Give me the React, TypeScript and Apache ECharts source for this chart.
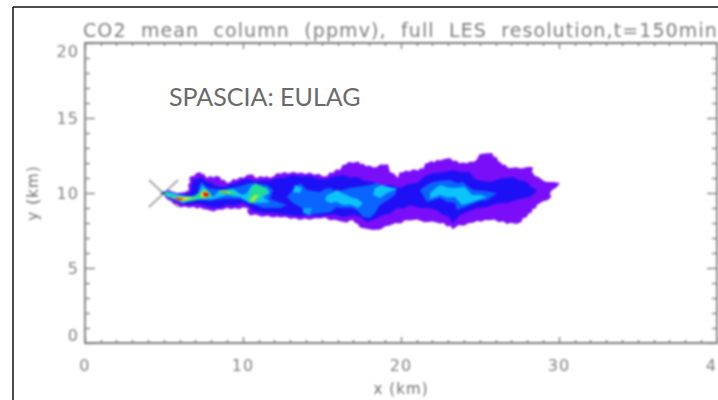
import React, { useEffect, useRef } from "react";
import * as echarts from "echarts";

const titleText = "CO2  mean  column  (ppmv),  full  LES  resolution,t=150min";
const noteText = "SPASCIA: EULAG";
type P = number[];

const plumeOutline: P[] = [[4.94,10],[5.25,10.2],[5.82,10],[6.3,10.05],[6.58,10.2],[6.52,10.55],[6.65,10.7],[6.6,11.0],[6.71,11.13],[6.9,11.12],[7.0,11.3],[7.28,11.4],[7.42,11.25],[7.5,11.3],[7.72,11],[7.95,11.15],[8.1,11.02],[8.3,11.15],[8.54,11.07],[8.65,10.85],[8.8,10.9],[8.99,10.67],[9.2,10.72],[9.37,10.93],[9.6,10.88],[9.8,11.05],[10.05,11.02],[10.25,11.2],[10.6,11.25],[10.75,11.05],[10.89,11],[11.1,11.14],[11.3,11.05],[11.5,11.12],[11.71,11.02],[11.95,11.12],[12.15,11.33],[12.4,11.28],[12.6,11.4],[12.9,11.3],[13.16,11.42],[13.45,11.32],[13.7,11.36],[13.95,11.26],[14.24,11.36],[14.5,11.22],[14.8,11.28],[15.05,11.1],[15.32,11.13],[15.5,11.38],[15.7,11.33],[15.9,11.58],[16.14,11.53],[16.3,11.86],[16.5,11.9],[16.7,12.08],[16.96,12.02],[17.3,12.1],[17.45,11.92],[17.59,11.96],[17.8,11.78],[18.0,11.84],[18.25,11.7],[18.48,11.73],[18.7,11.92],[18.9,11.88],[19.18,11.92],[19.3,11.4],[19.55,11.3],[19.81,11],[19.9,11.38],[20.1,11.36],[20.3,11.5],[20.55,11.44],[20.76,11.58],[21.1,11.5],[21.25,11.68],[21.39,11.6],[21.55,11.98],[21.71,12],[21.9,12.14],[22.1,12.05],[22.3,12.22],[22.47,12.16],[22.8,12.28],[23.1,12.33],[23.3,12.14],[23.5,12.16],[23.7,11.98],[23.92,12.04],[24.15,11.98],[24.4,12.1],[24.6,12.06],[24.81,12.24],[24.95,12.56],[25.13,12.62],[25.45,12.65],[25.76,12.67],[25.9,12.38],[26.05,12.42],[26.15,12.12],[26.27,12.07],[26.45,11.86],[26.6,11.9],[26.75,11.68],[26.9,11.67],[27.3,11.72],[27.6,11.64],[28.0,11.74],[28.35,11.73],[28.3,11.4],[28.48,11.13],[28.7,11.06],[28.9,10.92],[29.05,10.78],[29.24,10.73],[29.65,10.74],[30.06,10.67],[29.88,10.42],[29.75,10.3],[29.58,10.22],[29.43,10],[29.5,9.72],[29.3,9.53],[29.0,9.45],[28.6,9.2],[28.55,9.0],[28.3,8.9],[28.28,8.7],[28.06,8.62],[27.96,8.38],[27.7,8.32],[27.63,8.06],[27.3,7.94],[26.95,8.02],[26.71,7.93],[26.45,8.12],[26.2,8.05],[25.9,8.24],[25.63,8.18],[25.3,8.2],[25.1,8.08],[24.8,8.14],[24.56,8.02],[24.25,7.98],[24,7.82],[23.65,7.86],[23.29,7.58],[23.1,7.82],[22.9,7.76],[22.7,8.0],[22.47,7.96],[22,8.1],[21.5,8.05],[21,8.24],[20.57,8.16],[20.25,8.18],[20,7.96],[19.65,8.0],[19.3,7.84],[19.0,7.78],[18.7,7.56],[18.23,7.53],[17.8,7.62],[17.4,7.7],[17.25,7.96],[17.1,7.98],[16.95,8.2],[16.77,8.16],[16.55,8.02],[16.4,8.06],[16.14,8.12],[15.8,8.22],[15.5,8.18],[15.2,8.36],[14.9,8.3],[14.55,8.32],[14.24,8.22],[13.9,8.3],[13.6,8.2],[13.3,8.34],[12.97,8.28],[12.7,8.42],[12.4,8.36],[12.15,8.44],[11.9,8.36],[11.55,8.48],[11.2,8.42],[10.8,8.56],[10.44,8.5],[10.25,8.78],[10.35,8.96],[10,9.05],[9.75,8.92],[9.5,9.0],[9.25,8.92],[8.99,9.02],[8.7,8.88],[8.4,8.9],[8.15,8.76],[7.91,8.84],[7.7,8.9],[7.5,8.92],[7.3,9.04],[7.09,8.96],[6.85,9.08],[6.6,9.02],[6.3,9.1],[6.01,9.04],[5.85,9.24],[5.57,9.3],[5.45,9.52],[5.3,9.5],[5.06,9.73]];

const blueBody: P[] = [[4.94,10.07],[5.82,9.87],[6.65,10],[6.84,10.87],[7.1,10.92],[7.41,11.07],[7.6,10.8],[7.91,10.73],[8.35,10.45],[8.86,10.4],[9.2,10.6],[9.62,10.67],[9.9,10.85],[10.25,10.93],[10.75,10.78],[11.27,10.84],[11.7,10.82],[12.15,11],[12.6,11.02],[13.16,11.2],[13.7,11.08],[14.24,11.13],[14.8,10.94],[15.32,10.93],[15.8,11.14],[16.33,11.2],[16.8,11.04],[17.22,11.07],[17.7,10.82],[18.23,10.73],[18.75,10.48],[19.3,10.53],[19.94,10.33],[20.45,10.6],[21.01,10.67],[21.5,11.12],[22.03,11.33],[22.6,11.36],[23.29,11.53],[23.8,11.38],[24.37,11.4],[24.55,11.05],[24.81,10.87],[25.2,10.82],[25.63,10.73],[26.35,10.96],[27.09,11.07],[27.5,10.84],[27.97,10.73],[28.25,10.4],[28.6,10.2],[28.4,9.92],[28.16,9.73],[27.45,9.58],[26.71,9.33],[26.05,9.3],[25.44,9.07],[24.8,8.98],[24.18,8.73],[23.7,8.5],[23.29,8],[22.95,8.46],[22.66,8.53],[22.3,8.84],[21.84,9],[21.2,9.02],[20.57,9.2],[20.15,8.96],[19.75,9],[19.3,8.62],[18.86,8.53],[18.4,8.28],[17.85,8.07],[17.4,8.42],[16.96,8.53],[16.33,8.4],[15.8,8.56],[15.32,8.53],[14.8,8.46],[14.24,8.53],[13.6,8.46],[12.97,8.53],[12.4,8.6],[11.9,8.67],[11.25,8.68],[10.63,8.8],[10.4,9.1],[10,9.33],[9.5,9.15],[8.99,9.2],[8.45,9.02],[7.91,9.07],[7.5,9.2],[7.09,9.27],[6.5,9.22],[6.01,9.33],[5.57,9.53]];

const azureHead: P[] = [[6.01,9.73],[7.09,9.87],[7.34,10.73],[7.78,10.33],[8.54,10.2],[9.62,10.4],[10.44,10.67],[11.52,10.53],[11.9,10.2],[11.71,9.6],[12.78,9.2],[12.34,9],[11.27,9],[10.44,9.33],[9.81,9.6],[8.73,9.6],[7.91,9.47],[7.09,9.53],[6.01,9.4]];
const azureMid: P[] = [[12.78,9.73],[13.16,10.2],[13.61,10.67],[14.05,10.2],[14.87,10.07],[15.2,10.28],[15.51,10.33],[15.9,10.12],[16.33,10.2],[16.77,10.33],[17.22,10.4],[17.9,10.5],[18.48,10.67],[19.1,10.42],[19.75,10.33],[19.62,9.87],[19.2,9.55],[18.67,9.2],[18.4,8.74],[18.04,8.33],[17.59,8.4],[17.3,8.78],[16.96,9],[16.14,9],[15.95,9.06],[15.5,8.72],[15.06,8.67],[14.05,8.53],[13.73,9],[13.16,9.33]];
const azureTail: P[] = [[21.2,10.2],[21.6,10.52],[22.03,10.73],[22.6,10.84],[23.1,10.87],[23.55,10.66],[23.92,10.73],[24.25,10.42],[24.56,10.2],[25.3,10.14],[26.08,10],[25.44,9.53],[24.9,9.44],[24.37,9.2],[23.54,8.87],[23.42,9.33],[22.9,9.42],[22.47,9.67],[21.65,9.4]];

const cyanCore: P[] = [[4.94,10.13],[5.38,10.07],[6.01,9.87],[6.84,9.73],[7.22,10],[7.41,10.53],[7.78,10.13],[8.1,9.73],[8.48,10.13],[9.37,10.27],[9.94,9.87],[10.25,10],[10.57,10.53],[11.52,10.33],[11.71,10],[11.27,9.73],[11.71,9.4],[11.08,9.33],[10.32,9.4],[9.81,9.73],[8.99,9.87],[8.1,9.6],[7.28,9.6],[6.2,9.33],[5.57,9.6],[5.06,9.8]];
const cyanA: P[] = [[13.29,10.53],[13.73,10.33],[13.61,10],[13.16,10.07]];
const cyanB: P[] = [[13.8,9],[14.37,9],[14.24,8.53],[13.8,8.67]];
const cyanC: P[] = [[15.19,9.53],[15.32,9.87],[15.6,9.98],[15.95,10.2],[16.3,9.96],[16.58,9.87],[16.77,9.73],[17.2,9.62],[17.59,9.33],[17.28,9],[16.8,9.24],[16.33,9.2],[15.9,9.42],[15.51,9.33]];
const cyanD: P[] = [[18.35,10.33],[18.8,10.53],[19.3,10.36],[19.75,10.27],[19.11,10],[18.67,9.67],[18.23,9.87]];
const cyanE: P[] = [[21.84,10],[22.15,10.28],[22.47,10.53],[23,10.36],[23.42,10.33],[24.05,10.4],[24.3,10.1],[24.49,9.87],[25,9.88],[25.44,9.73],[24.49,9.4],[23.86,9.2],[23.6,9.5],[23.42,9.73],[22.9,9.7],[22.47,9.87],[21.84,9.6]];

const greenTail: P[] = [[4.94,10.07],[5.25,10],[5.57,9.8],[6.14,9.73],[6.84,9.73],[7.28,10.07],[7.59,10.33],[7.91,10],[8.04,9.73],[7.41,9.6],[6.65,9.47],[6.14,9.4],[5.57,9.67],[5.06,9.87]];
const greenStreak: P[] = [[8.42,10.2],[9.37,10.2],[9.75,9.8],[9.05,9.93],[8.54,9.93]];
const greenBlob: P[] = [[10.32,9.53],[10.44,10.2],[10.76,10.67],[11.52,10.27],[11.58,10],[11.2,9.8],[10.76,9.33],[10.32,9.33]];
const yellowTail: P[] = [[5.57,9.73],[6.2,9.73],[6.96,9.73],[6.2,9.47],[5.82,9.53]];
const yellowHead: P[] = [[7.34,10],[7.59,10.2],[7.91,9.87],[7.59,9.67],[7.34,9.73]];
const yellowStreak: P[] = [[8.67,10.13],[9.18,10.07],[9.18,10],[8.67,10]];
const yellowBlob: P[] = [[10.44,9.53],[10.76,9.87],[11.01,9.87],[10.63,9.4]];
const redTail: P[] = [[5.7,9.7],[6.33,9.6],[6.01,9.5],[5.7,9.6]];
const redHead: P[] = [[7.47,10.07],[7.78,10],[7.85,9.8],[7.53,9.73]];
const orangeStreak: P[] = [[8.67,10.07],[8.99,10.07],[8.99,10],[8.67,10]];
const sourceDot: P[] = [[4.8,10.03],[5.1,10.05],[5.1,9.95],[4.8,9.93]];

const layerShapes = [plumeOutline, blueBody, azureHead, azureMid, azureTail, cyanCore, cyanA, cyanB, cyanC, cyanD, cyanE, greenTail, greenStreak, greenBlob, yellowTail, yellowHead, yellowStreak, yellowBlob, redTail, redHead, orangeStreak, sourceDot];
const layerColors = ["#7a0ef8", "#1e10f4", "#0a64ff", "#0a64ff", "#0a64ff", "#0cc4fb", "#0cc4fb", "#0aa4fb", "#0cc4fb", "#0cc4fb", "#0cc4fb", "#22dc96", "#22dc96", "#22dc96", "#d8e82c", "#e8e020", "#d8e82c", "#b8e83c", "#ee2010", "#ee1000", "#f06010", "#103070"];

const crossA: P[] = [[4.05, 10.87], [5.89, 9.07]];
const crossB: P[] = [[4.05, 9.07], [5.89, 10.87]];

export default function App() {
  const base = useRef<HTMLDivElement>(null);
  const over = useRef<HTMLDivElement>(null);
  useEffect(() => {
    const c1 = echarts.init(base.current!, undefined, { renderer: "svg" });
    const c2 = echarts.init(over.current!, undefined, { renderer: "svg" });
    const gray = "#7c7c7c";
    const line = { show: true, onZero: false, lineStyle: { color: gray, width: 1.8 } };
    const xTick = { show: true, inside: true, length: 6, lineStyle: { color: gray, width: 1.3 } };
    const xMinor = { show: true, splitNumber: 10, length: 3, lineStyle: { color: gray, width: 1.3 } };
    const yTick = { show: true, inside: true, length: 10, lineStyle: { color: gray, width: 1.3 } };
    const yMinor = { show: true, splitNumber: 5, length: 5, lineStyle: { color: gray, width: 1.3 } };
    const fontFamily = "DejaVu Sans";
    c1.setOption({
      animation: false,
      title: {
        text: titleText,
        left: 78,
        top: 15,
        textStyle: { color: "#7d7d7d", fontFamily, fontSize: 19, fontWeight: "normal" },
      },
      grid: { left: 85, right: 1, top: 43, bottom: 57, outerBoundsMode: "none" },
      xAxis: [
        {
          type: "value", min: 0, max: 40, interval: 10, position: "bottom",
          axisLine: line, axisTick: xTick, minorTick: xMinor, splitLine: { show: false },
          axisLabel: { color: "#808080", fontFamily, fontSize: 16, margin: 14 },
          name: "x (km)", nameLocation: "middle", nameGap: 38,
          nameTextStyle: { color: "#6e6e6e", fontFamily, fontSize: 15 },
        },
        {
          type: "value", min: 0, max: 40, interval: 10, position: "top",
          axisLine: line, axisTick: xTick, minorTick: xMinor, splitLine: { show: false },
          axisLabel: { show: false },
        },
      ],
      yAxis: [
        {
          type: "value", min: 0, max: 20, interval: 5, position: "left",
          axisLine: line, axisTick: yTick, minorTick: yMinor, splitLine: { show: false },
          axisLabel: {
            color: "#808080", fontFamily, fontSize: 16, margin: 6,
            verticalAlignMinLabel: "bottom", verticalAlignMaxLabel: "top",
          },
          name: "y (km)", nameLocation: "middle", nameGap: 45,
          nameTextStyle: { color: "#6e6e6e", fontFamily, fontSize: 15 },
        },
        {
          type: "value", min: 0, max: 20, interval: 5, position: "right",
          axisLine: line, axisTick: yTick, minorTick: yMinor, splitLine: { show: false },
          axisLabel: { show: false },
        },
      ],
      series: [
        { type: "line", data: crossA, symbol: "none", z: 1, lineStyle: { color: "#a8a8a8", width: 2 } },
        { type: "line", data: crossB, symbol: "none", z: 1, lineStyle: { color: "#a8a8a8", width: 2 } },
        {
          type: "custom",
          z: 3,
          coordinateSystem: "cartesian2d",
          data: layerShapes.map((_, i) => [i]),
          encode: { x: -1, y: -1 },
          renderItem: (params: any, api: any) => ({
            type: "polygon",
            shape: { points: layerShapes[params.dataIndex].map((p) => api.coord(p)) },
            style: { fill: layerColors[params.dataIndex] },
          }),
        },
      ],
    });
    c2.setOption({
      animation: false,
      graphic: [
        { type: "line", shape: { x1: 13, y1: 7, x2: 13, y2: 400 }, style: { stroke: "#111", lineWidth: 1.5 } },
        { type: "line", shape: { x1: 13, y1: 7, x2: 718, y2: 7 }, style: { stroke: "#111", lineWidth: 1.5 } },
        {
          type: "text", x: 169, y: 96,
          style: { text: noteText, fill: "#6a6a6a", font: "25px Lato", verticalAlign: "middle" },
        },
      ],
    });
    return () => {
      c1.dispose();
      c2.dispose();
    };
  }, []);
  return (
    <div style={{ position: "fixed", left: 0, top: 0, width: 718, height: 400, background: "#fff", overflow: "hidden" }}>
      <style>{`.plotlayer text{letter-spacing:1.1px}`}</style>
      <div ref={base} className="plotlayer" style={{ position: "absolute", left: 0, top: 0, width: 718, height: 400, filter: "blur(0.8px)" }} />
      <div ref={over} style={{ position: "absolute", left: 0, top: 0, width: 718, height: 400 }} />
    </div>
  );
}
